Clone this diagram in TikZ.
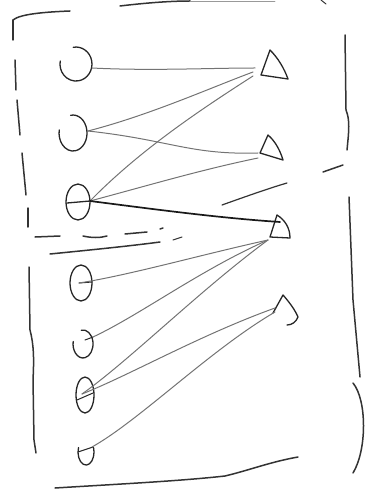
\documentclass[tikz,border=0pt]{standalone}
\begin{document}
\begin{tikzpicture}[x=1pt,y=-1pt,
  frame/.style={draw=black!80,line width=1.5pt,line cap=round},
  shp/.style={draw=black!85,line width=1.3pt,line cap=round,line join=round},
  link/.style={draw=black!55,line width=1pt,line cap=round},
  strong/.style={draw=black!90,line width=1.7pt,line cap=round}]
\useasboundingbox (0,0) rectangle (374,494);
% ---------- hand-drawn frames ----------
\draw[frame] (13,20) .. controls (20,14) and (45,12) .. (70,11);
\draw[frame] (120,6) .. controls (145,3) and (170,1) .. (190,1);
\draw[frame,black!40,line width=0.8pt] (190,1) -- (275,1);
\draw[frame,line width=1pt] (321,0) -- (326,4);
\draw[frame] (13,20) -- (13,40);
\draw[frame] (15,60) -- (16,90);
\draw[frame] (17,100) -- (20,135);
\draw[frame] (22,153) -- (26,195);
\draw[frame] (28,208) -- (28,227);
\draw[frame] (345,35) -- (346,110) .. controls (350,120) and (349,130) .. (347,150);
\draw[frame] (35,237) -- (60,236);
\draw[frame] (83,236) .. controls (92,238) and (100,238) .. (107,236);
\draw[frame] (125,234) -- (147,232);
\draw[frame] (160,229) -- (163,228);
\draw[frame,line width=1pt] (173,240) -- (182,237);
\draw[frame] (50,254) .. controls (90,250) and (130,246) .. (160,242);
\draw[frame,line width=1.2pt] (222,205) .. controls (250,195) and (270,188) .. (287,183);
\draw[frame] (323,172) -- (343,165);
\draw[frame] (29,267) -- (30,330) .. controls (34,345) and (34,360) .. (33,380) -- (34,440) -- (36,453);
\draw[frame] (349,197) -- (353,300) -- (360,377);
\draw[frame] (353,383) .. controls (367,400) and (367,450) .. (353,473);
\draw[frame] (55,488) .. controls (120,484) and (180,481) .. (225,476)
  .. controls (250,470) and (270,462) .. (298,457);
% ---------- circles (left column) ----------
\coordinate (c1) at (92,68);
\coordinate (c2) at (88,131);
\coordinate (c3) at (90,201);
\coordinate (c4) at (79,283);
\coordinate (c5) at (93,337);
\coordinate (c6) at (82,394);
\coordinate (c7) at (92,447);
\draw[shp] (73.2,47.3) arc[start angle=-100,end angle=190,x radius=16,y radius=17];
\draw[shp] (70.6,115.3) arc[start angle=-100,end angle=190,x radius=14,y radius=18];
\draw[shp] (78,202) ellipse[x radius=12,y radius=18];
\draw[shp] (67,203) -- (c3);
\draw[shp] (81,283) ellipse[x radius=11,y radius=18];
\draw[shp,line width=1pt] (c4) -- (92,282);
\draw[shp] (81.3,330.2) arc[start angle=-100,end angle=190,x radius=10,y radius=14];
\draw[shp,line width=1pt] (85,340) -- (c5);
\draw[shp] (85,395) ellipse[x radius=9,y radius=18];
\draw[shp,line width=1pt] (77,400) -- (93,393);
\draw[shp] (78.5,447.6) arc[start angle=200,end angle=-20,x radius=8,y radius=13];
\draw[shp,line width=1pt] (78,452) -- (93,447);
% ---------- triangles (right column) ----------
\coordinate (t1) at (255,68);
\coordinate (t1b) at (253,72);
\coordinate (t1c) at (253,76);
\coordinate (t2) at (258,153);
\coordinate (t2b) at (258,158);
\coordinate (t3) at (280,222);
\coordinate (t3b) at (268,240);
\coordinate (t4) at (275,308);
\coordinate (t4b) at (275,312);
\draw[shp] (270,50) -- (261,75) -- (288,79) .. controls (284,68) and (278,58) .. cycle;
\draw[shp] (268,135) -- (260,153) -- (283,160) .. controls (280,150) and (275,141) .. cycle;
\draw[shp] (277,215) -- (270,237) -- (290,238) .. controls (290,228) and (285,220) .. cycle;
\draw[shp] (273,313) -- (283,295) .. controls (290,303) and (295,310) .. (298,317)
  .. controls (296,322) and (292,325) .. (287,325);
% ---------- connectors ----------
\draw[link] (c1) .. controls (150,71) and (210,68) .. (t1);
\draw[link] (c2) .. controls (150,115) and (210,88) .. (t1b);
\draw[link] (c2) .. controls (170,140) and (190,155) .. (t2);
\draw[link] (c3) .. controls (140,150) and (200,110) .. (t1c);
\draw[link] (c3) .. controls (150,185) and (200,170) .. (t2b);
\draw[strong] (c3) .. controls (160,210) and (220,218) .. (t3);
\draw[link] (t3b) .. controls (200,255) and (130,275) .. (c4);
\draw[link] (t3b) .. controls (200,270) and (140,315) .. (c5);
\draw[link] (t3b) .. controls (200,290) and (130,360) .. (c6);
\draw[link] (t4) .. controls (200,335) and (130,375) .. (c6);
\draw[link] (t4b) .. controls (210,350) and (140,420) .. (c7);
\end{tikzpicture}
\end{document}
